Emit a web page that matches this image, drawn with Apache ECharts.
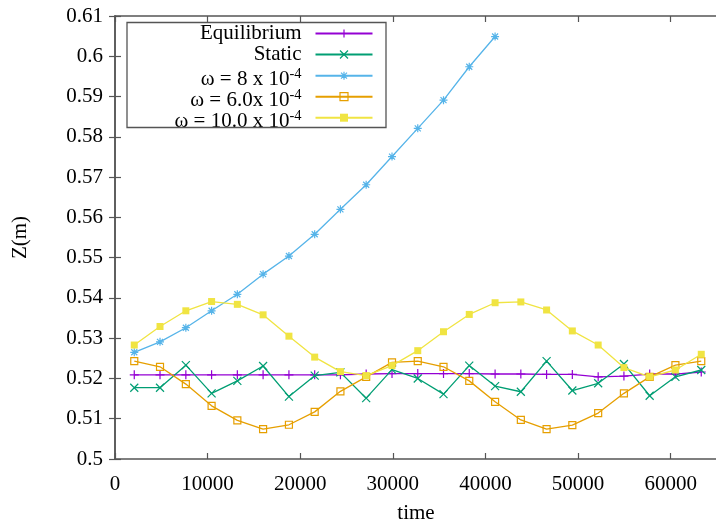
<!DOCTYPE html>
<html><head><meta charset="utf-8">
<script src="https://cdn.jsdelivr.net/npm/echarts@6/dist/echarts.min.js"></script>
<style>html,body{margin:0;padding:0;background:#fff}#c{width:716px;height:524px}</style>
</head><body><div id="c"></div>
<script>
const time = [2080,4860,7650,10430,13210,15990,18780,21560,24340,27120,29910,32690,35470,38250,41040,43820,46600,49380,52170,54950,57730,60510,63300];
const equilibrium = [0.5209,0.5209,0.5209,0.5209,0.5209,0.5209,0.5209,0.5209,0.5209,0.5211,0.5212,0.5212,0.5212,0.5212,0.5211,0.5211,0.5210,0.5210,0.5204,0.5206,0.5211,0.5211,0.5216];
const staticZ = [0.5177,0.5177,0.5233,0.5163,0.5194,0.5231,0.5155,0.5207,0.5215,0.5151,0.5222,0.5200,0.5161,0.5232,0.5181,0.5167,0.5243,0.5170,0.5188,0.5236,0.5157,0.5204,0.5221];
const omega8 = [0.5265,0.5291,0.5326,0.5368,0.5409,0.5459,0.5504,0.5558,0.5620,0.5681,0.5751,0.5821,0.5891,0.5974,0.6049];
const omega6 = [0.5243,0.5229,0.5186,0.5132,0.5096,0.5074,0.5085,0.5117,0.5168,0.5204,0.5240,0.5243,0.5229,0.5194,0.5142,0.5097,0.5074,0.5084,0.5114,0.5163,0.5204,0.5233,0.5243];
const omega10 = [0.5283,0.5329,0.5368,0.5391,0.5384,0.5358,0.5305,0.5253,0.5217,0.5207,0.5232,0.5269,0.5316,0.5359,0.5388,0.5390,0.5370,0.5318,0.5283,0.5227,0.5204,0.5221,0.5260];
const seriesNames = ['Equilibrium','Static','ω = 8 x 10^-4','ω = 6.0x 10^-4','ω = 10.0 x 10^-4'];
const legendBase = ['Equilibrium','Static','ω = 8 x 10','ω = 6.0x 10','ω = 10.0 x 10'];
const legendSup = ['','','-4','-4','-4'];
const xAxisRange = {min:0, max:65000, interval:10000};
const yAxisRange = {min:0.5, max:0.61, interval:0.01};

const FONT = 'Liberation Serif';
const FS = 21;
const AX = '#555';
const colors = ['#9400d3','#009e73','#56b4e9','#e69f00','#f0e442'];
const pts = arr => arr.map((v,i)=>[time[i], v]);

const plus = 'path://M0,4.5L9,4.5M4.5,0L4.5,9';
const cross = 'path://M0,0L8,8M0,8L8,0';
const star = 'path://M0,4L8,4M4,0L4,8M1,1L7,7M1,7L7,1';

function mkSeries(i, data, symbol, size, filled){
  return {
    name: seriesNames[i], type:'line', data: pts(data),
    symbol, symbolSize: size, showAllSymbol: true,
    lineStyle:{color:colors[i], width:1.3},
    itemStyle: filled ? {color:colors[i], borderColor:colors[i], borderWidth:0}
                      : {color:'transparent', borderColor:colors[i], borderWidth:1.2},
    emphasis:{disabled:true}, z: 2+i
  };
}
const series = [
  mkSeries(0, equilibrium, plus, 9, false),
  mkSeries(1, staticZ, cross, 8, false),
  mkSeries(2, omega8, star, 8, false),
  mkSeries(3, omega6, 'rect', 7, false),
  mkSeries(4, omega10, 'rect', 7, true)
];

const rowsY = [33.5, 54.5, 75.7, 96.7, 117.7];
const legends = seriesNames.map((n,i)=>{
  const hasSup = legendSup[i] !== '';
  return {
    data:[n], orient:'horizontal', align:'right', selectedMode:false,
    right: 716-373.5, top: rowsY[i] - (hasSup ? 14.5 : 10.5), padding:0,
    itemWidth:57, itemHeight:10,
    itemStyle:{borderWidth: i===4 ? 0 : 1.2},
    textStyle:{fontFamily:FONT, fontSize:FS, color:'#000', lineHeight:21, padding:[0,9,0,0],
      rich:{
        b:{fontFamily:FONT, fontSize:FS, color:'#000', lineHeight:21, padding:[8,0,0,0]},
        s:{fontFamily:FONT, fontSize:14.5, color:'#000', lineHeight:15, padding:[5,0,9,0]}
      }},
    formatter: () => hasSup ? '{b|' + legendBase[i] + '}{s|' + legendSup[i] + '}' : legendBase[i]
  };
});

const chart = echarts.init(document.getElementById('c'), null, {renderer:'canvas'});
chart.setOption({
  animation:false,
  backgroundColor:'#fff',
  grid:{left:115, right:-1, top:16, bottom:65, containLabel:false, outerBoundsMode:'none'},
  xAxis:[{
    type:'value', min:xAxisRange.min, max:xAxisRange.max, interval:xAxisRange.interval,
    name:'time', nameLocation:'middle', nameGap:44,
    nameTextStyle:{fontFamily:FONT, fontSize:FS, color:'#000'},
    axisLine:{show:true, lineStyle:{color:AX, width:1.5}},
    axisTick:{show:true, inside:true, length:6, lineStyle:{color:AX, width:1.2}},
    axisLabel:{fontFamily:FONT, fontSize:FS, color:'#000', margin:15, showMaxLabel:false,
      formatter: v => String(v)},
    splitLine:{show:false}
  },{
    type:'value', position:'top', min:xAxisRange.min, max:xAxisRange.max, interval:xAxisRange.interval,
    axisLine:{show:true, lineStyle:{color:AX, width:1.5}},
    axisTick:{show:true, inside:true, length:6, lineStyle:{color:AX, width:1.2}},
    axisLabel:{show:false}, splitLine:{show:false}
  }],
  yAxis:[{
    type:'value', min:yAxisRange.min, max:yAxisRange.max, interval:yAxisRange.interval,
    name:'Z(m)', nameLocation:'middle', nameGap:84, nameRotate:90,
    nameTextStyle:{fontFamily:FONT, fontSize:FS, color:'#000'},
    axisLine:{show:true, lineStyle:{color:AX, width:1.5}},
    axisTick:{show:true, inside:true, length:6, lineStyle:{color:AX, width:1.2}},
    axisLabel:{fontFamily:FONT, fontSize:FS, color:'#000', margin:12, padding:[4,0,0,0],
      formatter: v => String(+v.toFixed(2))},
    splitLine:{show:false}
  },{
    type:'value', position:'right', min:yAxisRange.min, max:yAxisRange.max, interval:yAxisRange.interval,
    axisLine:{show:true, lineStyle:{color:AX, width:1.5}},
    axisTick:{show:true, inside:true, length:6, lineStyle:{color:AX, width:1.2}},
    axisLabel:{show:false}, splitLine:{show:false}
  }],
  legend: legends,
  graphic:[{type:'rect', shape:{x:127, y:22.5, width:259, height:105},
    style:{fill:'none', stroke:'#555', lineWidth:1.3}, z:10, silent:true}],
  series
});
</script>
</body></html>
